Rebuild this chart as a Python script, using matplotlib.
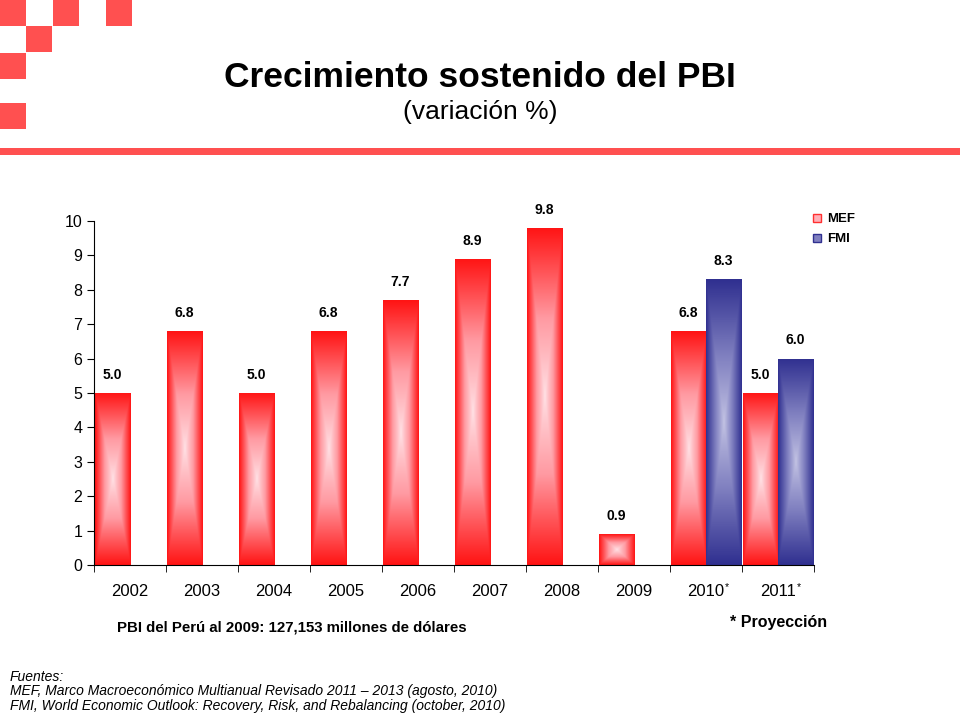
import numpy as np
import matplotlib
matplotlib.use("Agg")
import matplotlib.pyplot as plt
from matplotlib.colors import LinearSegmentedColormap
from matplotlib.patches import Rectangle, Patch

plt.rcParams['font.family'] = ['Liberation Sans', 'DejaVu Sans']

# datos
anios = ['2002', '2003', '2004', '2005', '2006', '2007', '2008', '2009', '2010*', '2011*']
mef = [5.0, 6.8, 5.0, 6.8, 7.7, 8.9, 9.8, 0.9, 6.8, 5.0]
fmi = [np.nan, np.nan, np.nan, np.nan, np.nan, np.nan, np.nan, np.nan, 8.3, 6.0]

rojo = LinearSegmentedColormap.from_list('rojo', ['#ffe2e6', '#ff9aa2', '#ff1414'])
azul = LinearSegmentedColormap.from_list('azul', ['#c4c4e4', '#8080c0', '#303090'])


def barra_degradada(ax, barra, cmap):
    h = barra.get_height()
    if np.isnan(h) or h == 0:
        return
    x, y, w = barra.get_x(), barra.get_y(), barra.get_width()
    u = np.abs(np.linspace(-1, 1, 120))
    v = np.abs(np.linspace(-1, 1, 300))
    t = np.maximum(u[None, :], v[:, None]) ** 0.9
    im = ax.imshow(t, cmap=cmap, vmin=0, vmax=1, extent=(x, x + w, y, y + h),
                   aspect='auto', origin='lower', interpolation='bilinear', zorder=2)
    im.set_clip_path(barra)


fig = plt.figure(figsize=(9.6, 7.2), dpi=100)

# decoracion superior
deco = fig.add_axes([0, 0, 1, 1])
deco.set_xlim(0, 960)
deco.set_ylim(720, 0)
deco.axis('off')
cuadros = [(0, 0), (53, 0), (106, 0), (26, 26), (0, 53), (0, 103)]
for cx, cy in cuadros:
    deco.add_patch(Rectangle((cx, cy), 26, 26, color='#ff5050', lw=0))
deco.add_patch(Rectangle((0, 148), 960, 7, color='#ff5050', lw=0))

fig.text(0.5, 0.893, 'Crecimiento sostenido del PBI', ha='center', va='center',
         fontsize=25.5, fontweight='bold')
fig.text(0.5, 0.845, '(variación %)', ha='center', va='center', fontsize=19)

ax = fig.add_axes([0.098, 0.2153, 0.75, 0.4778])
x = np.arange(len(anios))
ancho = 0.49
b1 = ax.bar(x - 0.49, mef, ancho, align='edge', facecolor='none', edgecolor='none', label='MEF')
b2 = ax.bar(x, fmi, ancho, align='edge', facecolor='none', edgecolor='none', label='FMI')
for barra in b1:
    barra_degradada(ax, barra, rojo)
for barra in b2:
    barra_degradada(ax, barra, azul)

for serie in (b1, b2):
    for barra in serie:
        h = barra.get_height()
        if np.isnan(h):
            continue
        ax.annotate(f'{h:.1f}', (barra.get_x() + barra.get_width() / 2, h),
                    xytext=(0, 8), textcoords='offset points', ha='center', va='bottom',
                    fontsize=10, fontweight='bold', annotation_clip=False)

ax.set_xlim(-0.5, len(anios) - 0.5)
ax.set_ylim(0, 10)
ax.set_yticks(range(0, 11))
ax.set_xticks(x)
ax.set_xticklabels([a.rstrip('*') for a in anios], fontsize=12)
ax.set_xticks(np.arange(-0.5, len(anios)), minor=True)
ax.tick_params(axis='x', which='major', length=0, pad=14)
ax.tick_params(axis='x', which='minor', length=5, direction='out')
ax.tick_params(axis='y', labelsize=11.5, length=5, direction='out')
for lado in ('top', 'right'):
    ax.spines[lado].set_visible(False)

# asteriscos de proyeccion
for i, a in enumerate(anios):
    if a.endswith('*'):
        ax.annotate('*', xy=(i, 0), xycoords=('data', 'axes fraction'),
                    xytext=(13.5, -12), textcoords='offset points',
                    fontsize=7.5, ha='left', va='top', annotation_clip=False)

handles = [Patch(facecolor='#ffb0b8', edgecolor='#ff3030', label='MEF'),
           Patch(facecolor='#8080c0', edgecolor='#303090', label='FMI')]
fig.legend(handles=handles, loc='upper left', bbox_to_anchor=(0.835, 0.72),
           frameon=False, prop={'weight': 'bold', 'size': 9.5},
           handlelength=0.6, handleheight=0.6, handletextpad=0.4, labelspacing=0.6)

fig.text(0.122, 0.128, 'PBI del Perú al 2009: 127,153 millones de dólares',
         ha='left', va='center', fontsize=10.8, fontweight='bold')
fig.text(0.76, 0.135, '* Proyección', ha='left', va='center', fontsize=11.5, fontweight='bold')

fig.text(0.01, 0.06, 'Fuentes:', fontsize=10, style='italic', va='center')
fig.text(0.01, 0.04, 'MEF, Marco Macroeconómico Multianual Revisado 2011 – 2013 (agosto, 2010)',
         fontsize=10, style='italic', va='center')
fig.text(0.01, 0.02, 'FMI, World Economic Outlook: Recovery, Risk, and Rebalancing (october, 2010)',
         fontsize=10, style='italic', va='center')

fig.savefig('out.png', dpi=100)
